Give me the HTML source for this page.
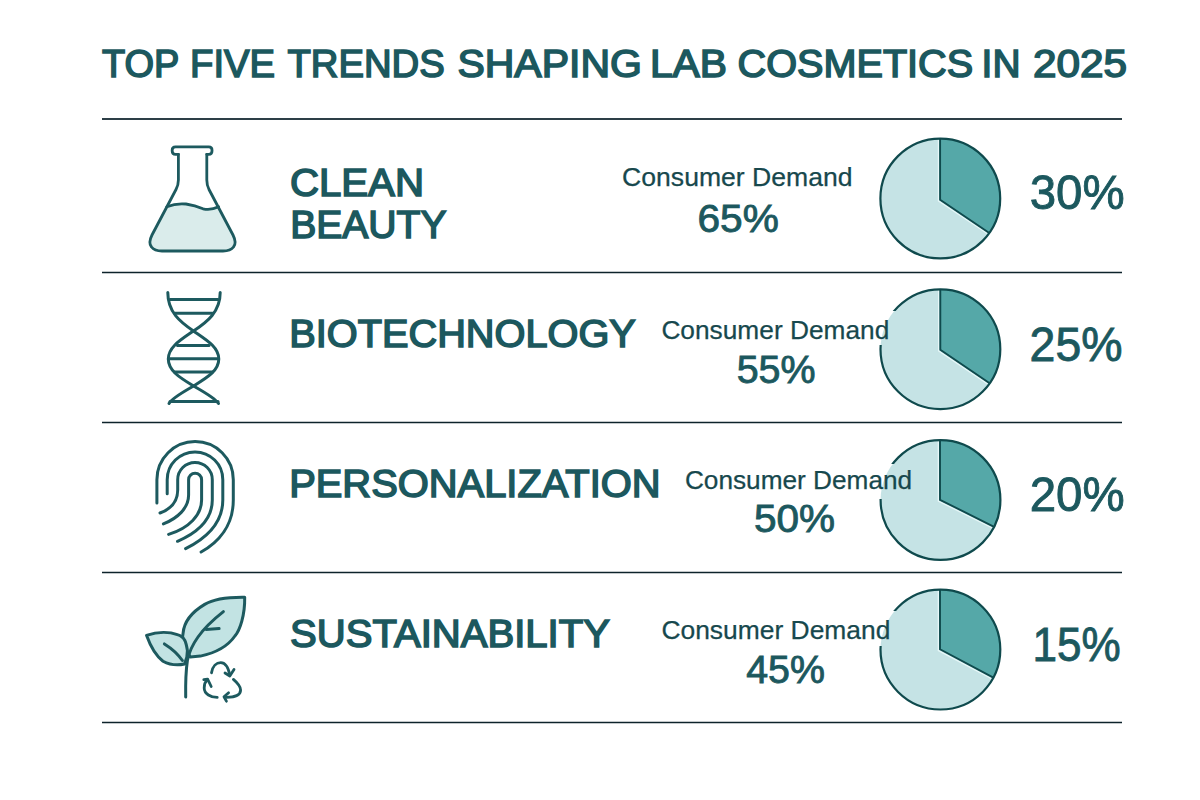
<!DOCTYPE html>
<html><head><meta charset="utf-8">
<style>
html,body{margin:0;padding:0;background:#ffffff;width:1200px;height:800px;overflow:hidden}
svg{display:block}
text{font-family:"Liberation Sans",sans-serif}
.t.lb{stroke-width:1.6}
.t{fill:#1c585e;stroke:#1c585e;stroke-width:0.9;font-weight:normal}
.cd{fill:#17484d;stroke:#17484d;stroke-width:0.25;font-weight:normal;font-size:26px}
.ln{stroke:#1e3e46;stroke-width:2}
.ic{fill:none;stroke:#1d5a5f;stroke-width:3;stroke-linecap:round;stroke-linejoin:round}
.pl{fill:#c6e3e5}
.pd{fill:#57a8a8}
.ps{fill:none;stroke:#134c50;stroke-width:2.4}
</style></head>
<body>
<svg width="1200" height="800" viewBox="0 0 1200 800">
<rect width="1200" height="800" fill="#fff"/>
<!-- title -->
<text id="w0" class="t lb" x="102.0" y="76.7" font-size="39" textLength="77.4" lengthAdjust="spacingAndGlyphs">TOP</text>
<text id="w1" class="t lb" x="190.0" y="76.7" font-size="39" textLength="85.1" lengthAdjust="spacingAndGlyphs">FIVE</text>
<text id="w2" class="t lb" x="287.4" y="76.7" font-size="39" textLength="157.4" lengthAdjust="spacingAndGlyphs">TRENDS</text>
<text id="w3" class="t lb" x="457.4" y="76.7" font-size="39" textLength="184.5" lengthAdjust="spacingAndGlyphs">SHAPING</text>
<text id="w4" class="t lb" x="649.9" y="76.7" font-size="39" textLength="77.1" lengthAdjust="spacingAndGlyphs">LAB</text>
<text id="w5" class="t lb" x="737.5" y="76.7" font-size="39" textLength="235.7" lengthAdjust="spacingAndGlyphs">COSMETICS</text>
<text id="w6" class="t lb" x="981.6" y="76.7" font-size="39" textLength="38.9" lengthAdjust="spacingAndGlyphs">IN</text>
<text id="w7" class="t lb" x="1033.0" y="76.7" font-size="39" textLength="94.1" lengthAdjust="spacingAndGlyphs">2025</text>
<!-- lines -->
<line x1="102" y1="119" x2="1122" y2="119" stroke="#2d3f47" stroke-width="1.9"/>
<line x1="102" y1="272.5" x2="1122" y2="272.5" stroke="#0d232b" stroke-width="1.7"/>
<line x1="102" y1="422.5" x2="1122" y2="422.5" stroke="#0d232b" stroke-width="1.7"/>
<line x1="102" y1="572.5" x2="1122" y2="572.5" stroke="#0d232b" stroke-width="1.7"/>
<line x1="102" y1="722.5" x2="1122" y2="722.5" stroke="#0d232b" stroke-width="1.7"/>

<!-- row labels -->
<text id="clean" class="t lb" x="289.9" y="195.8" font-size="39" textLength="134.1" lengthAdjust="spacingAndGlyphs">CLEAN</text>
<text id="beauty" class="t lb" x="290.2" y="237.8" font-size="39" textLength="156.3" lengthAdjust="spacingAndGlyphs">BEAUTY</text>
<text id="biotech" class="t lb" x="289.2" y="347.1" font-size="39" textLength="346.7" lengthAdjust="spacingAndGlyphs">BIOTECHNOLOGY</text>
<text id="personal" class="t lb" x="289.2" y="497.3" font-size="39" textLength="371.4" lengthAdjust="spacingAndGlyphs">PERSONALIZATION</text>
<text id="sustain" class="t lb" x="290.1" y="647.0" font-size="39" textLength="319.8" lengthAdjust="spacingAndGlyphs">SUSTAINABILITY</text>

<!-- pies -->
<defs>
<mask id="gap1" maskUnits="userSpaceOnUse" x="0" y="0" width="1200" height="800"><rect width="1200" height="800" fill="#fff"/><rect x="850" y="311" width="47" height="34" fill="#000"/></mask>
<mask id="gap2" maskUnits="userSpaceOnUse" x="0" y="0" width="1200" height="800"><rect width="1200" height="800" fill="#fff"/><rect x="850" y="464" width="66" height="35" fill="#000"/></mask>
<mask id="gap3" maskUnits="userSpaceOnUse" x="0" y="0" width="1200" height="800"><rect width="1200" height="800" fill="#fff"/><rect x="850" y="611" width="47" height="35" fill="#000"/></mask>
</defs>
<g>
<circle cx="940.3" cy="198.5" r="59.9" fill="#c5e3e5"/>
<path d="M939.7,200.0 L939.7,138.60 A59.9,59.9 0 0 1 989.06,233.29 Z" fill="#55a8a8"/>
<path d="M938.5,138.60 L938.5,201.00 L988.39,234.29" fill="none" stroke="#e6f7f8" stroke-width="1.4"/>
<path d="M940.1,138.60 L940.1,199.80 L989.28,232.96" fill="none" stroke="#0f4a4d" stroke-width="1.9" stroke-linejoin="miter"/>
<circle cx="940.3" cy="198.5" r="59.9" fill="none" stroke="#0f4a4d" stroke-width="2.2"/>
</g>
<g>
<circle cx="940.4" cy="349.2" r="59.9" fill="#c5e3e5"/>
<path d="M939.9,350.0 L939.9,289.30 A59.9,59.9 0 0 1 989.41,383.64 Z" fill="#55a8a8"/>
<path d="M938.6999999999999,289.30 L938.6999999999999,351.00 L988.73,384.64" fill="none" stroke="#e6f7f8" stroke-width="1.4"/>
<path d="M940.3,289.30 L940.3,349.80 L989.63,383.31" fill="none" stroke="#0f4a4d" stroke-width="1.9" stroke-linejoin="miter"/>
<circle cx="940.4" cy="349.2" r="59.9" fill="none" stroke="#0f4a4d" stroke-width="2.2" mask="url(#gap1)"/>
</g>
<g>
<circle cx="940.5" cy="500.0" r="59.9" fill="#c5e3e5"/>
<path d="M939.6,500.0 L939.6,440.11 A59.9,59.9 0 0 1 993.88,527.18 Z" fill="#55a8a8"/>
<path d="M938.4,440.11 L938.4,501.00 L993.34,528.25" fill="none" stroke="#e6f7f8" stroke-width="1.4"/>
<path d="M940.0,440.11 L940.0,499.80 L994.06,526.82" fill="none" stroke="#0f4a4d" stroke-width="1.9" stroke-linejoin="miter"/>
<circle cx="940.5" cy="500.0" r="59.9" fill="none" stroke="#0f4a4d" stroke-width="2.2" mask="url(#gap2)"/>
</g>
<g>
<circle cx="940.4" cy="649.6" r="59.9" fill="#c5e3e5"/>
<path d="M939.6,649.5 L939.6,589.71 A59.9,59.9 0 0 1 993.15,677.97 Z" fill="#55a8a8"/>
<path d="M938.4,589.71 L938.4,650.50 L992.59,679.03" fill="none" stroke="#e6f7f8" stroke-width="1.4"/>
<path d="M940.0,589.71 L940.0,649.30 L993.34,677.62" fill="none" stroke="#0f4a4d" stroke-width="1.9" stroke-linejoin="miter"/>
<circle cx="940.4" cy="649.6" r="59.9" fill="none" stroke="#0f4a4d" stroke-width="2.2" mask="url(#gap3)"/>
</g>

<!-- consumer demand -->
<text id="cd1" class="cd" x="622.1" y="186.1" textLength="230.5" lengthAdjust="spacingAndGlyphs">Consumer Demand</text>
<text id="cd2" class="cd" x="661.4" y="339.1" textLength="227.9" lengthAdjust="spacingAndGlyphs">Consumer Demand</text>
<text id="cd3" class="cd" x="684.9" y="488.7" textLength="227.3" lengthAdjust="spacingAndGlyphs">Consumer Demand</text>
<text id="cd4" class="cd" x="661.4" y="638.7" textLength="229.0" lengthAdjust="spacingAndGlyphs">Consumer Demand</text>

<text id="p65" class="t" x="697.5" y="231.5" font-size="39" textLength="81.3" lengthAdjust="spacingAndGlyphs">65%</text>
<text id="p55" class="t" x="736.7" y="382.6" font-size="39" textLength="78.8" lengthAdjust="spacingAndGlyphs">55%</text>
<text id="p50" class="t" x="753.9" y="531.7" font-size="39" textLength="81.0" lengthAdjust="spacingAndGlyphs">50%</text>
<text id="p45" class="t" x="746.2" y="682.7" font-size="39" textLength="78.7" lengthAdjust="spacingAndGlyphs">45%</text>

<text id="p30" class="t" x="1029.7" y="209.2" font-size="49" textLength="94.9" lengthAdjust="spacingAndGlyphs">30%</text>
<text id="p25" class="t" x="1029.6" y="361" font-size="49" textLength="92.9" lengthAdjust="spacingAndGlyphs">25%</text>
<text id="p20" class="t" x="1029.7" y="511.2" font-size="49" textLength="94.9" lengthAdjust="spacingAndGlyphs">20%</text>
<text id="p15" class="t" x="1032.5" y="661" font-size="49" textLength="88.2" lengthAdjust="spacingAndGlyphs">15%</text>

<!-- flask -->
<path d="M166.8,206.8 Q176,203 186,204 Q195,205.3 203,208.8 Q211,210.5 218.6,206.8 L233,235 Q237,243 233.5,247 Q230.5,251 223,251 L162,251 Q154.5,251 151.5,247 Q148,243 152,235 Z" fill="#daeceb"/>
<path class="ic" style="stroke-width:2.8" d="M166.8,206.8 Q176,203 186,204 Q195,205.3 203,208.8 Q211,210.5 218.6,206.8"/>
<path class="ic" style="stroke-width:2.8" d="M178.4,154.3 L178.4,180 Q178.4,185 176,189.5 L152,235 Q148,243 151.5,247 Q154.5,251 162,251 L223,251 Q230.5,251 233.5,247 Q237,243 233,235 L209,189.5 Q206.8,185 206.8,180 L206.8,154.3"/>
<path class="ic" style="stroke-width:2.8" d="M178.4,154.3 L175.5,154.3 Q172.2,154.3 172.2,151 L172.2,150 Q172.2,146.8 175.5,146.8 L208.8,146.8 Q212,146.8 212,150 L212,151 Q212,154.3 208.8,154.3 L206.8,154.3"/>

<!-- DNA -->
<g class="ic">
<path d="M167.8,292.5 C167.8,312 180,322 193.5,331 C206.5,340 218.8,347 218.8,359 C218.8,371 206.5,378 193.5,386 C183,392 172,398 169,403.5"/>
<path d="M220.2,292.5 C220.2,312 207,322 193.5,331 C180.5,340 168.3,347 168.3,359 C168.3,371 180.5,378 193.5,386 C204,392 215,398 218.5,403.5"/>
<line x1="170" y1="299.6" x2="218" y2="299.6"/>
<line x1="175" y1="313.3" x2="212.5" y2="313.3"/>
<line x1="177.5" y1="345.6" x2="209" y2="345.6"/>
<line x1="169.5" y1="358.8" x2="217.5" y2="358.8"/>
<line x1="174.5" y1="371.9" x2="212.5" y2="371.9"/>
<line x1="170" y1="401.6" x2="218" y2="401.6"/>
</g>

<!-- fingerprint -->
<g class="ic">
<path d="M156.9,503 L156.9,479.7 A38.2,38.2 0 0 1 233.3,479.7 L233.3,500 C233.3,525 219,542 201.1,552"/>
<path d="M167.2,493.8 L167.2,479.7 A27.8,27.8 0 0 1 222.8,479.7 L222.8,500 C222.8,522 207,538 185.6,548.7"/>
<path d="M160,513 C171,509 177.7,502 177.7,490 L177.7,479.7 A17.3,17.3 0 0 1 212.3,479.7 L212.3,500 C212.3,518 199,532 177.5,541.3"/>
<path d="M163.4,523.9 C178,518 188.6,508 188.6,495 L188.6,479.7 A6.5,6.5 0 0 1 201.6,479.7 L201.6,500 C201.6,515 189,528 168.6,534.4"/>
</g>

<!-- leaf -->
<g class="ic" style="stroke-width:3">
<path d="M190.3,656.9 C186,650 181,642 183.1,633.1 C184,622 192,612 204.7,604.4 C215,598 230,597 244.7,597.2 C245,615 240,630 234.9,636 C228,646 215,653 200.4,656.1 Z" fill="#c2e3e3"/>
<path d="M187.4,650.4 C186,642 185,637 177.4,634.6 C170,632 158,631.5 146.5,635.3 C150,645 156,656 163,661.2 C170,665 178,665.5 184.6,664 C186.5,660 187.5,655 187.4,650.4 Z" fill="#c2e3e3"/>
<path d="M185.7,697.1 C185.5,685 186,670 187.4,660.5 C189,652 193,644 198,637 C205,627 214,619 223.4,611.6" fill="none"/>
<path d="M206.1,629.5 L219.1,628.5" fill="none"/>
<path d="M164.4,643.9 C171,648 178,654 182.4,660.5" fill="none"/>
</g>
<!-- recycle -->
<g class="ic" style="stroke-width:2.8">
<path d="M211.5,672.8 C212.5,666 216.5,662.6 220.8,662.6 C225,662.6 228,666 229.8,675"/>
<path d="M225,673 L229.8,676 L234,669.5"/>
<path d="M233.4,679.4 C237,682.5 240.6,686 240.6,690 C240.6,694.5 236.5,697.2 226.5,697.4"/>
<path d="M228.6,692.8 L224,696.8 L226.4,701.2"/>
<path d="M217.2,697.4 C211,697.4 204.2,694 204.2,688 C204.2,684.5 205.5,681.5 207.4,679.6"/>
<path d="M203.8,679.6 L207.6,679.2 L211.2,686.5"/>
</g>
</svg>
</body></html>
